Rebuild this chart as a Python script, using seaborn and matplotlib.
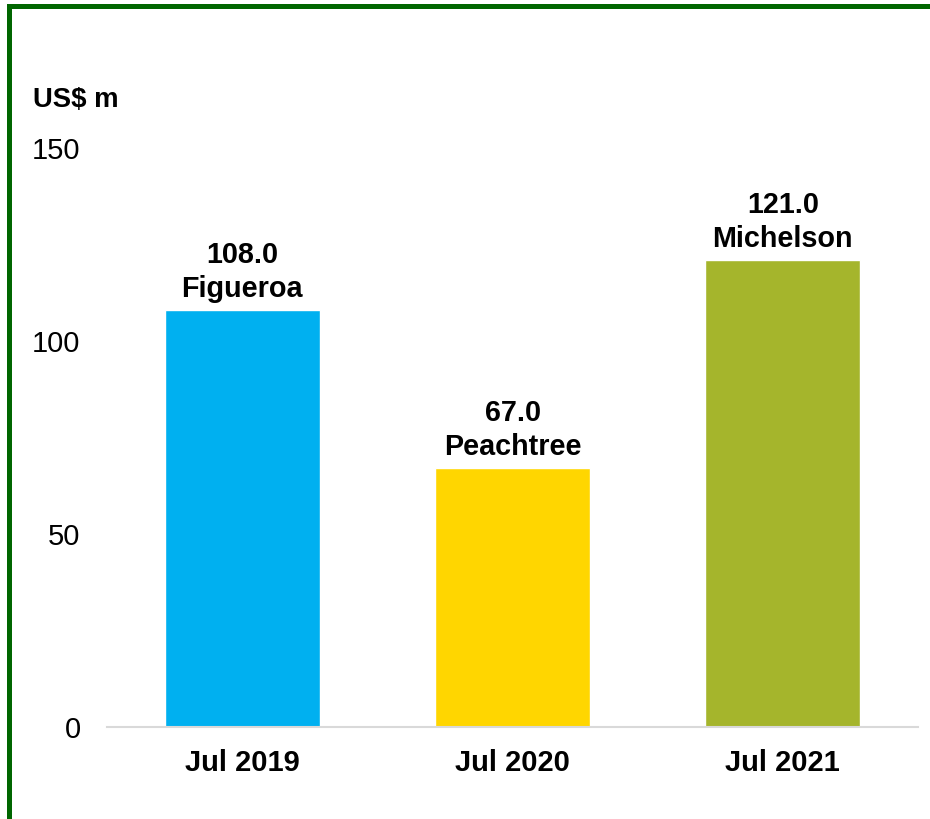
import matplotlib
matplotlib.use("Agg")
import matplotlib.pyplot as plt
import seaborn as sns
import pandas as pd
from matplotlib.patches import Rectangle

categories = ["Jul 2019", "Jul 2020", "Jul 2021"]
values = [108.0, 67.0, 121.0]
names = ["Figueroa", "Peachtree", "Michelson"]
colors = ["#00B0F0", "#FFD600", "#A5B52C"]
yticks = [0, 50, 100, 150]

sns.set_theme(style="white")
plt.rcParams['font.family'] = ['Liberation Sans', 'DejaVu Sans']

W, H = 930, 819
fig = plt.figure(figsize=(W / 100, H / 100), dpi=100)
ax = fig.add_axes([107 / W, 1 - 727 / H, (918 - 107) / W, (727 - 148) / H])

df = pd.DataFrame({"cat": categories, "val": values})
sns.barplot(data=df, x="cat", y="val", hue="cat", palette=colors, order=categories,
            hue_order=categories, width=0.573, saturation=1, legend=False, ax=ax)

ax.set_xlim(-0.5, 2.5)
ax.set_ylim(0, 150)
ax.set_yticks(yticks)
ax.set_yticklabels([str(t) for t in yticks], fontsize=21, color="#000000")
ax.set_xlabel("")
ax.set_ylabel("")
for lab in ax.get_xticklabels():
    lab.set_fontweight("bold")
    lab.set_fontsize(21)
    lab.set_color("#000000")
ax.tick_params(axis="y", length=0, pad=19)
ax.tick_params(axis="x", length=0, pad=16)
for s in ["top", "right", "left"]:
    ax.spines[s].set_visible(False)
ax.spines["bottom"].set_color("#d9d9d9")
ax.spines["bottom"].set_linewidth(1.5)

for i, (v, n) in enumerate(zip(values, names)):
    ax.annotate(f"{v:.1f}\n{n}", xy=(i, v), xytext=(0, 5), textcoords="offset points",
                ha="center", va="bottom", fontsize=20.7, fontweight="bold",
                linespacing=1.27, color="#000000")

fig.text(33 / W, 1 - 100 / H, "US$ m", fontsize=19.8, fontweight="bold",
         ha="left", va="center", color="#000000")

fig.patches.append(Rectangle((9 / W, -0.05), 1.1, 1.05 - 5.5 / H,
                             transform=fig.transFigure, fill=False,
                             edgecolor="#006600", linewidth=3.6))

fig.savefig("out.png", dpi=100)
